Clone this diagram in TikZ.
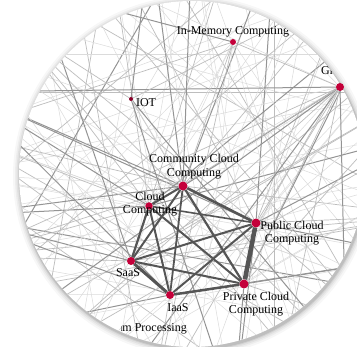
\documentclass[tikz,border=0pt]{standalone}
\usepackage{fontspec}
\setmainfont{Liberation Serif}
\usetikzlibrary{fadings}
\pgfdeclareradialshading{edgeshadeX}{\pgfpoint{0bp}{0bp}}{color(0bp)=(black); color(33bp)=(black); color(50bp)=(black!40)}
\pgfdeclarefading{edgefade}{\pgfuseshading{edgeshadeX}}
\pgfdeclarelayer{bg}
\pgfsetlayers{bg,main}
\definecolor{dotred}{RGB}{196,0,58}
\definecolor{edgedark}{RGB}{85,85,85}
\begin{document}
\begin{tikzpicture}[x=1pt,y=-1pt,
  dot/.style={circle,fill=dotred,inner sep=0pt,minimum size=#1},
  dot/.default=8pt,
  lbl/.style={font=\fontsize{12}{13.5}\selectfont,align=center,text=black,inner sep=0pt},
  bg0/.style={draw=black!14,line width=0.5pt},
  bg1/.style={draw=black!26,line width=0.7pt},
  bg2/.style={draw=black!42,line width=1pt},
  core/.style={draw=edgedark,line width=#1},
  core/.default=2pt]
\useasboundingbox (0,0) rectangle (357,347);
% nodes
\node[dot=9pt] (com) at (183,186) {};
\node[dot=7.5pt] (cld) at (149,206) {};
\node[dot=8pt] (saas) at (131,261) {};
\node[dot=8pt] (iaas) at (170,295) {};
\node[dot=9pt] (pub) at (256,223) {};
\node[dot=9pt] (pri) at (244,284) {};
\node[dot=8pt] (grid) at (340,87) {};
\node[dot=6pt] (mem) at (233,42) {};
\node[dot=4pt,fill=dotred!70!black] (iot) at (131,99) {};
\foreach \i in {0,...,35}
  \coordinate (o\i) at ([shift={(192,174)}]\i*10:240);
\begin{pgfonlayer}{bg}
% shadow and disc
\foreach \r/\o in {180/0.03,178/0.04,176.5/0.05,175/0.07,174/0.09}
  \fill[black,opacity=\o] (193,176) circle (\r);
\fill[white] (192,174) circle (173);
\begin{scope}
\clip (192,174) circle (173);
% background chords
\foreach \a/\b/\s in {0/12/bg0,1/15/bg1,2/14/bg0,3/17/bg2,4/16/bg0,5/19/bg1,6/20/bg0,7/18/bg1,
  8/22/bg0,9/21/bg0,10/24/bg1,11/23/bg0,12/26/bg0,13/25/bg1,14/28/bg0,15/27/bg2,16/30/bg0,
  17/29/bg1,18/32/bg0,19/31/bg0,20/34/bg1,21/33/bg0,22/35/bg0,23/1/bg1,24/2/bg0,25/3/bg0,
  26/4/bg1,27/5/bg0,28/6/bg0,29/7/bg1,30/8/bg0,31/9/bg0,32/10/bg1,33/11/bg0,34/12/bg0,
  35/13/bg1,0/16/bg0,3/19/bg0,6/22/bg1,9/25/bg0,12/28/bg0,15/31/bg1,18/34/bg0,21/1/bg0,
  24/4/bg1,27/7/bg0,30/10/bg0,33/13/bg1,2/18/bg0,20/4/bg0,16/1/bg1,17/35/bg0,19/3/bg0,
  14/34/bg1,13/30/bg0,11/27/bg0,22/5/bg1,26/8/bg0}
  \draw[\s] (o\a) -- (o\b);
% node fans
\foreach \n/\t in {com/{18,17,19,20,21,24,26,29,31,33,1,3,16},
  cld/{16,17,18,19,20,22,25,28,32,35},
  saas/{15,16,17,18,19,21,34,1,23},
  iaas/{10,12,14,15,17,20,30,33,2},
  pub/{0,1,2,4,6,8,29,31,33,35,20,22,25},
  pri/{0,2,4,6,8,34,32,27},
  grid/{11,13,14,15,16,18,20,7,5,27,24,12},
  mem/{9,12,15,19,23,3,6,10},
  iot/{5,8,22,26,31}}
  \foreach \k in \t {
    \pgfmathtruncatemacro\m{mod(\k*7+3,3)}
    \draw[bg\m] (\n) -- (o\k);
  }
\draw[bg2] (com) -- (o27);
% gray node-to-node links
\draw[bg2] (grid) -- (com);
\draw[bg1] (grid) -- (pub);
\draw[bg1] (grid) -- (cld);
\draw[bg1] (grid) -- (pri);
\draw[bg1] (mem) -- (com);
\draw[bg0] (mem) -- (cld);
\draw[bg1] (iot) -- (com);
\draw[bg0] (iot) -- (pri);
\draw[bg1] (mem) -- (grid);
\fill[white,path fading=edgefade] (192,174) circle (173);
\end{scope}
% core edges
\draw[core=4.5pt] (pub) -- (pri);
\draw[core=3pt] (saas) -- (iaas);
\draw[core=2.6pt] (com) -- (pub);
\draw[core=2.2pt] (com) -- (pri);
\draw[core=2pt] (com) -- (cld);
\draw[core=2.2pt] (cld) -- (saas);
\draw[core=2pt] (cld) -- (iaas);
\draw[core=2pt] (cld) -- (pri);
\draw[core=1.6pt] (cld) -- (pub);
\draw[core=2pt] (com) -- (saas);
\draw[core=1.8pt] (com) -- (iaas);
\draw[core=2pt] (saas) -- (pub);
\draw[core=2pt] (saas) -- (pri);
\draw[core=2pt] (iaas) -- (pub);
\draw[core=2.5pt] (iaas) -- (pri);
\end{pgfonlayer}
% labels
\begin{scope}
\clip (192,174) circle (173);
\node[lbl] (lcom) at (194,166.5) {Community Cloud\\Computing};
\node[lbl] (lcld) at (150,204) {Cloud\\Computing};
\node[lbl] (lpub) at (292,233) {Public Cloud\\Computing};
\node[lbl] (lpri) at (256,304) {Private Cloud\\Computing};
\node[lbl] (lsaas) at (128,273) {SaaS};
\node[lbl] (liaas) at (178,308) {IaaS};
\node[lbl] (liot) at (146,103) {IOT};
\node[lbl] (lmem) at (233,32) {In-Memory Computing};
\node[lbl,anchor=west] (lgrid) at (321,72) {Grid Computing};
\begin{scope}
\clip (121,310) rectangle (200,345);
\node[lbl,anchor=east] (lstr) at (187,329) {Stream Processing};
\end{scope}
\end{scope}
\end{tikzpicture}
\end{document}
